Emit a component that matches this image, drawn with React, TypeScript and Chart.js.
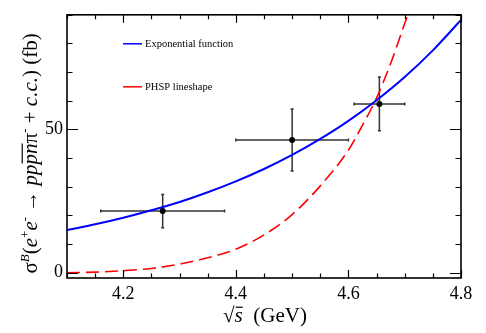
import React, { useEffect, useRef } from 'react';
import { Chart, registerables } from 'chart.js';

Chart.register(...registerables);

// ---- data ----
const fitEnergy = [4.1, 4.15, 4.2, 4.25, 4.3, 4.35, 4.4, 4.45, 4.5, 4.55, 4.6, 4.65, 4.7, 4.75, 4.8];
const expFunction = [14.9, 16.9, 19.2, 21.8, 24.7, 28.1, 31.9, 36.2, 41.1, 46.7, 53.0, 60.2, 68.3, 77.6, 88.2];

const phspEnergy = [4.1, 4.15, 4.2, 4.25, 4.3, 4.35, 4.4, 4.45, 4.5, 4.55, 4.6, 4.625, 4.65, 4.675, 4.7, 4.72];
const phspLineshape = [0.0, 0.2, 0.7, 1.5, 3.0, 5.2, 8.2, 13.2, 20.3, 30.3, 42.8, 51.5, 61.0, 73.0, 87.0, 98.0];

const energy = [4.27, 4.5, 4.655];
const energyLow = [4.16, 4.4, 4.61];
const energyHigh = [4.38, 4.6, 4.7];
const sigma = [21.5, 46.3, 58.9];
const sigmaErr = [5.8, 10.8, 9.4];

const seriesLabels = ['Exponential function', 'PHSP lineshape'];
const seriesColors = ['#0000ff', '#ff0000'];

const xMin = 4.1;
const xMax = 4.8;
const yMin = -1.84;
const yMax = 90;
const xMajorTicks = [4.2, 4.4, 4.6, 4.8];
const xMinorTicks = [4.1, 4.15, 4.2, 4.25, 4.3, 4.35, 4.4, 4.45, 4.5, 4.55, 4.6, 4.65, 4.7, 4.75, 4.8];
const yMajorTicks = [0, 50];
const yMinorTicks = [0, 10, 20, 30, 40, 50, 60, 70, 80, 90];

const SERIF = '"Liberation Serif", "Times New Roman", "DejaVu Serif", serif';

type Seg = { t: string; italic?: boolean; sup?: boolean; over?: boolean };

const yTitle: Seg[] = [
  { t: 'σ' },
  { t: 'B', italic: true, sup: true },
  { t: '(' },
  { t: 'e', italic: true },
  { t: '+', sup: true },
  { t: 'e', italic: true },
  { t: '-', sup: true },
  { t: ' → ' },
  { t: 'pp', italic: true },
  { t: 'pn', italic: true, over: true },
  { t: 'π' },
  { t: '-', sup: true },
  { t: ' + ' },
  { t: 'c.c.', italic: true },
  { t: ') (fb)' },
];

const xTitle: Seg[] = [
  { t: '√' },
  { t: 's', italic: true, over: true },
  { t: '  (GeV)' },
];

function segFont(s: Seg, size: number) {
  const sz = s.sup ? Math.round(size * 0.62) : size;
  return `${s.italic ? 'italic ' : ''}${sz}px ${SERIF}`;
}

function drawSegs(ctx: CanvasRenderingContext2D, segs: Seg[], size: number, cx: number, cy: number, rotated: boolean) {
  ctx.save();
  ctx.translate(cx, cy);
  if (rotated) ctx.rotate(-Math.PI / 2);
  let total = 0;
  const widths = segs.map((s) => {
    ctx.font = segFont(s, size);
    const w = ctx.measureText(s.t).width;
    total += w;
    return w;
  });
  let x = -total / 2;
  const base = size * 0.35;
  ctx.fillStyle = '#000';
  ctx.strokeStyle = '#000';
  ctx.textBaseline = 'alphabetic';
  ctx.textAlign = 'left';
  segs.forEach((s, i) => {
    ctx.font = segFont(s, size);
    const y = s.sup ? base - size * 0.42 : base;
    ctx.fillText(s.t, x, y);
    if (s.over) {
      ctx.lineWidth = 1.2;
      ctx.beginPath();
      ctx.moveTo(x + 1, base - size * 0.72);
      ctx.lineTo(x + widths[i], base - size * 0.72);
      ctx.stroke();
    }
    x += widths[i];
  });
  ctx.restore();
}

const decorPlugin = {
  id: 'decor',
  beforeDatasetsDraw(chart: any) {
    const ctx: CanvasRenderingContext2D = chart.ctx;
    const xs = chart.scales.x;
    const ys = chart.scales.y;
    ctx.save();
    ctx.strokeStyle = '#333';
    ctx.lineWidth = 1.5;
    energy.forEach((e, i) => {
      const px = xs.getPixelForValue(e);
      const py = ys.getPixelForValue(sigma[i]);
      const x1 = xs.getPixelForValue(energyLow[i]);
      const x2 = xs.getPixelForValue(energyHigh[i]);
      const y1 = ys.getPixelForValue(sigma[i] - sigmaErr[i]);
      const y2 = ys.getPixelForValue(sigma[i] + sigmaErr[i]);
      ctx.beginPath();
      ctx.moveTo(x1, py);
      ctx.lineTo(x2, py);
      ctx.moveTo(px, y1);
      ctx.lineTo(px, y2);
      // caps
      ctx.moveTo(x1, py - 1.5);
      ctx.lineTo(x1, py + 1.5);
      ctx.moveTo(x2, py - 1.5);
      ctx.lineTo(x2, py + 1.5);
      ctx.moveTo(px - 1.5, y1);
      ctx.lineTo(px + 1.5, y1);
      ctx.moveTo(px - 1.5, y2);
      ctx.lineTo(px + 1.5, y2);
      ctx.stroke();
    });
    ctx.restore();
  },
  afterDatasetsDraw(chart: any) {
    const ctx: CanvasRenderingContext2D = chart.ctx;
    const { left, right, top, bottom } = chart.chartArea;
    const xs = chart.scales.x;
    const ys = chart.scales.y;
    ctx.save();
    ctx.strokeStyle = '#000';
    ctx.lineWidth = 1.2;
    ctx.beginPath();
    xMinorTicks.forEach((v) => {
      const px = Math.round(xs.getPixelForValue(v)) + 0.5;
      const major = xMajorTicks.some((m) => Math.abs(m - v) < 1e-6);
      const len = major ? 8 : 4.5;
      ctx.moveTo(px, bottom);
      ctx.lineTo(px, bottom - len);
      ctx.moveTo(px, top);
      ctx.lineTo(px, top + len);
    });
    yMinorTicks.forEach((v) => {
      const py = Math.round(ys.getPixelForValue(v)) + 0.5;
      const major = yMajorTicks.includes(v);
      const len = major ? 11 : 5.5;
      ctx.moveTo(left, py);
      ctx.lineTo(left + len, py);
      ctx.moveTo(right, py);
      ctx.lineTo(right - len, py);
    });
    ctx.stroke();
    // frame
    ctx.lineWidth = 1.6;
    ctx.strokeRect(left, top, right - left, bottom - top);

    // legend
    const lx = left + 56;
    const rows = [top + 29, top + 72];
    seriesLabels.forEach((lab, i) => {
      ctx.strokeStyle = seriesColors[i];
      ctx.lineWidth = 1.5;
      ctx.beginPath();
      ctx.moveTo(lx, rows[i]);
      ctx.lineTo(lx + 19, rows[i]);
      ctx.stroke();
      ctx.fillStyle = '#000';
      ctx.font = `10.5px ${SERIF}`;
      ctx.textBaseline = 'middle';
      ctx.textAlign = 'left';
      ctx.fillText(lab, lx + 22, rows[i]);
    });
    ctx.restore();

    // axis titles
    drawSegs(ctx, yTitle, 21, 30, (top + bottom) / 2 + 7, true);
    drawSegs(ctx, xTitle, 21, (left + right) / 2 + 1, 315, false);
  },
};

export default function App() {
  const ref = useRef<HTMLCanvasElement | null>(null);
  useEffect(() => {
    if (!ref.current) return;
    const chart = new Chart(ref.current, {
      type: 'scatter',
      data: {
        datasets: [
          {
            label: 'data',
            data: energy.map((x, i) => ({ x, y: sigma[i] })),
            pointRadius: 3,
            pointBackgroundColor: '#000',
            pointBorderColor: '#000',
            pointBorderWidth: 0,
            showLine: false,
          },
          {
            label: seriesLabels[0],
            data: fitEnergy.map((x, i) => ({ x, y: expFunction[i] })),
            borderColor: seriesColors[0],
            borderWidth: 2,
            pointRadius: 0,
            showLine: true,
            cubicInterpolationMode: 'monotone',
          },
          {
            label: seriesLabels[1],
            data: phspEnergy.map((x, i) => ({ x, y: phspLineshape[i] })),
            borderColor: seriesColors[1],
            borderWidth: 1.6,
            borderDash: [13, 6],
            pointRadius: 0,
            showLine: true,
            cubicInterpolationMode: 'monotone',
          },
        ] as any,
      },
      options: {
        animation: false,
        responsive: false,
        events: [],
        layout: { padding: { top: 14, right: 25, left: 0, bottom: 0 } },
        plugins: { legend: { display: false }, tooltip: { enabled: false } },
        scales: {
          x: {
            type: 'linear',
            min: xMin,
            max: xMax,
            grid: { display: false, drawTicks: false },
            border: { display: false },
            afterBuildTicks: (s: any) => {
              s.ticks = xMinorTicks.map((v) => ({ value: v }));
            },
            afterFit: (s: any) => {
              s.height = 55;
            },
            ticks: {
              autoSkip: false,
              maxRotation: 0,
              padding: 5,
              color: '#000',
              font: { family: SERIF, size: 18 },
              callback: (v: any) => {
                const n = Number(v);
                return xMajorTicks.some((m) => Math.abs(m - n) < 1e-6) ? n.toFixed(1) : '';
              },
            },
          },
          y: {
            type: 'linear',
            min: yMin,
            max: yMax,
            grid: { display: false, drawTicks: false },
            border: { display: false },
            afterBuildTicks: (s: any) => {
              s.ticks = yMinorTicks.map((v) => ({ value: v }));
            },
            afterFit: (s: any) => {
              s.width = 67;
            },
            ticks: {
              autoSkip: false,
              padding: 4,
              color: '#000',
              font: { family: SERIF, size: 18 },
              callback: (v: any) => (yMajorTicks.includes(Number(v)) ? String(v) : ''),
            },
          },
        },
      } as any,
      plugins: [decorPlugin],
    });
    return () => chart.destroy();
  }, []);
  return (
    <div style={{ position: 'fixed', left: 0, top: 0, width: 486, height: 333, background: '#fff' }}>
      <canvas ref={ref} width={486} height={333} style={{ width: 486, height: 333, display: 'block' }} />
    </div>
  );
}
